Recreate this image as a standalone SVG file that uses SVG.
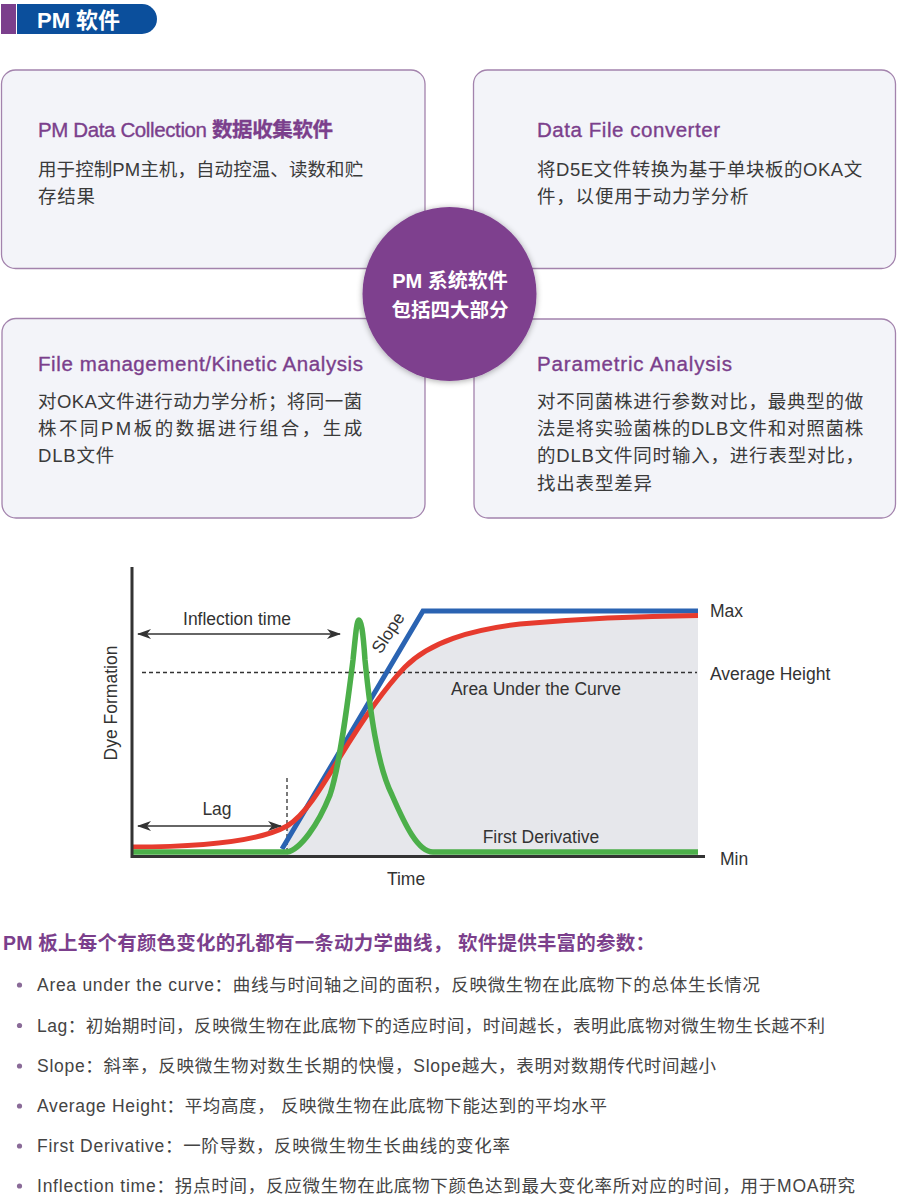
<svg xmlns="http://www.w3.org/2000/svg" width="897" height="1200" viewBox="0 0 897 1200">
<defs>
<style>
.box{fill:#f3f4f9;stroke:#a383ad;stroke-width:1.3}
.ttl{font-family:"Liberation Sans","Noto Sans CJK SC",sans-serif;font-size:20.5px;fill:#7b3f8c;stroke:#7b3f8c;stroke-width:0.35}
.body{font-family:"Liberation Sans","Noto Sans CJK SC",sans-serif;font-size:18.5px;fill:#3a3a3a;letter-spacing:0.8px}
.ct{font-family:"Liberation Sans","Noto Sans CJK SC",sans-serif;font-size:17.5px;fill:#333}
.bl{font-family:"Liberation Sans","Noto Sans CJK SC",sans-serif;font-size:17.5px;fill:#444}
.circ{font-family:"Liberation Sans","Noto Sans CJK SC",sans-serif;font-weight:bold;fill:#fff;text-anchor:middle}
.arr{stroke:#333;stroke-width:1.6;fill:none;marker-start:url(#ah);marker-end:url(#ah)}
.dash{stroke:#333;stroke-width:1.3;stroke-dasharray:4 3;fill:none}
.dot{fill:#8a6b98}
</style>
<marker id="ah" viewBox="0 0 14 10" refX="13" refY="5" markerWidth="14" markerHeight="10" markerUnits="userSpaceOnUse" orient="auto-start-reverse">
<path d="M0,0 L14,5 L0,10 L4,5 Z" fill="#333"/>
</marker>
<filter id="sh" x="-20%" y="-20%" width="140%" height="140%">
<feGaussianBlur in="SourceAlpha" stdDeviation="3"/>
<feOffset dx="0" dy="1" result="b"/>
<feComponentTransfer><feFuncA type="linear" slope="0.35"/></feComponentTransfer>
<feMerge><feMergeNode/><feMergeNode in="SourceGraphic"/></feMerge>
</filter>
</defs>
<rect width="897" height="1200" fill="#fff"/>

<g id="header">
<rect x="1" y="4" width="15" height="30" fill="#7b3f8c"/>
<path d="M17,4 H142 A15,15 0 0 1 142,34 H17 Z" fill="#0b4f9c"/>
<text x="37" y="27.5" style="font-family:'Liberation Sans','Noto Sans CJK SC',sans-serif;font-size:22px;font-weight:bold;fill:#fff">PM 软件</text>
</g>

<g id="box-data-collection">
<rect class="box" x="1.5" y="70" width="423.5" height="198.5" rx="14"/>
<text class="ttl" x="38" y="137" textLength="295">PM Data Collection <tspan font-weight="bold">数据收集软件</tspan></text>
<text class="body" x="38" y="176" textLength="326">用于控制PM主机，自动控温、读数和贮</text>
<text class="body" x="38" y="203">存结果</text>
</g>

<g id="box-converter">
<rect class="box" x="473.5" y="70" width="422" height="198.5" rx="14"/>
<text class="ttl" x="537" y="137" textLength="183">Data File converter</text>
<text class="body" x="537" y="176" textLength="326">将D5E文件转换为基于单块板的OKA文</text>
<text class="body" x="537" y="203">件，以便用于动力学分析</text>
</g>

<g id="box-file-management">
<rect class="box" x="2" y="318.5" width="423" height="199.5" rx="14"/>
<text class="ttl" x="38" y="371" textLength="325">File management/Kinetic Analysis</text>
<text class="body" x="38" y="408" textLength="325">对OKA文件进行动力学分析；将同一菌</text>
<text class="body" x="38" y="435" textLength="325">株不同PM板的数据进行组合，生成</text>
<text class="body" x="38" y="462">DLB文件</text>
</g>

<g id="box-parametric">
<rect class="box" x="474" y="319" width="421.5" height="199" rx="14"/>
<text class="ttl" x="537" y="371" textLength="195">Parametric Analysis</text>
<text class="body" x="537" y="408" textLength="327">对不同菌株进行参数对比，最典型的做</text>
<text class="body" x="537" y="435" textLength="327">法是将实验菌株的DLB文件和对照菌株</text>
<text class="body" x="537" y="462">的DLB文件同时输入，进行表型对比，</text>
<text class="body" x="537" y="490">找出表型差异</text>
</g>

<g id="center-circle">
<circle cx="449.5" cy="294" r="87" fill="#7e3f8e" filter="url(#sh)"/>
<text class="circ" x="450" y="288" font-size="20">PM 系统软件</text>
<text class="circ" x="450" y="317" font-size="19.5">包括四大部分</text>
</g>

<g id="chart">
<path d="M287,856 L287,826 C305,815 320,790 340,757 C360,724 385,688 405,667 C430,642 470,630 520,624 C600,617 650,616 698,615.5 L698,856 Z" fill="#e6e7eb"/>
<line class="dash" x1="142" y1="672.5" x2="697" y2="672.5"/>
<line class="dash" x1="287" y1="778" x2="287" y2="856"/>
<path d="M282,849 L423,611 L698,611" fill="none" stroke="#2a63b2" stroke-width="5" stroke-linejoin="miter"/>
<path d="M132,847 C210,847 262,840 287,826 C305,815 320,790 340,757 C360,724 385,688 405,667 C430,642 470,630 520,624 C600,617 650,616 698,615.5" fill="none" stroke="#e63b2e" stroke-width="5"/>
<path d="M132,852 L287,852 C300,850 318,825 330,795 C340,765 348,700 353,660 C356,630 357,620 359,620 C361,620 363,630 365,660 C370,710 377,765 392,795 C405,825 418,852 433,852 L698,852" fill="none" stroke="#4caf4a" stroke-width="5.5" stroke-linejoin="round"/>
<line x1="132" y1="567" x2="132" y2="858" stroke="#333" stroke-width="3"/>
<line x1="131" y1="856.5" x2="705" y2="856.5" stroke="#333" stroke-width="3"/>
</g>

<g id="connectors">
<line class="arr" x1="138" y1="634" x2="340" y2="634"/>
<line class="arr" x1="138" y1="826" x2="281" y2="826"/>
</g>

<g id="chart-labels">
<text class="ct" x="237" y="625" text-anchor="middle">Inflection time</text>
<text class="ct" x="217" y="815" text-anchor="middle">Lag</text>
<text class="ct" transform="translate(393,636) rotate(-57)" text-anchor="middle">Slope</text>
<text class="ct" transform="translate(117,703) rotate(-90)" text-anchor="middle">Dye Formation</text>
<text class="ct" x="406" y="885" text-anchor="middle">Time</text>
<text class="ct" x="710" y="617">Max</text>
<text class="ct" x="710" y="680">Average Height</text>
<text class="ct" x="536" y="695" text-anchor="middle">Area Under the Curve</text>
<text class="ct" x="541" y="843" text-anchor="middle">First Derivative</text>
<text class="ct" x="720" y="865">Min</text>
</g>

<g id="parameters">
<text x="3" y="950" style="font-family:'Liberation Sans','Noto Sans CJK SC',sans-serif;font-size:19.5px;font-weight:bold;fill:#7b3f8c" textLength="652">PM 板上每个有颜色变化的孔都有一条动力学曲线， 软件提供丰富的参数：</text>
<circle class="dot" cx="19.5" cy="985" r="2.6"/>
<text class="bl" x="37" y="991" textLength="723">Area under the curve：曲线与时间轴之间的面积，反映微生物在此底物下的总体生长情况</text>
<circle class="dot" cx="19.5" cy="1025.5" r="2.6"/>
<text class="bl" x="37" y="1031.5" textLength="788">Lag：初始期时间，反映微生物在此底物下的适应时间，时间越长，表明此底物对微生物生长越不利</text>
<circle class="dot" cx="19.5" cy="1066" r="2.6"/>
<text class="bl" x="37" y="1072" textLength="679">Slope：斜率，反映微生物对数生长期的快慢，Slope越大，表明对数期传代时间越小</text>
<circle class="dot" cx="19.5" cy="1106" r="2.6"/>
<text class="bl" x="37" y="1112" textLength="570">Average Height：平均高度， 反映微生物在此底物下能达到的平均水平</text>
<circle class="dot" cx="19.5" cy="1146" r="2.6"/>
<text class="bl" x="37" y="1152" textLength="473">First Derivative：一阶导数，反映微生物生长曲线的变化率</text>
<circle class="dot" cx="19.5" cy="1186" r="2.6"/>
<text class="bl" x="37" y="1192" textLength="818">Inflection time：拐点时间，反应微生物在此底物下颜色达到最大变化率所对应的时间，用于MOA研究</text>
</g>
</svg>
